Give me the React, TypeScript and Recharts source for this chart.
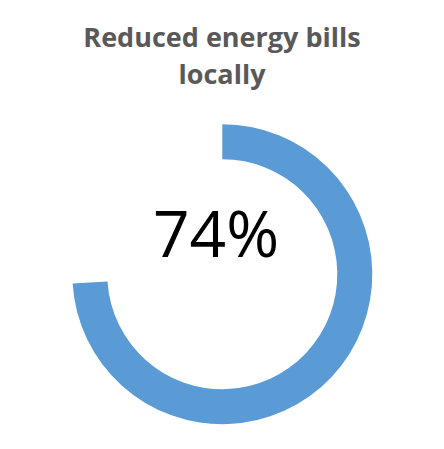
import React from "react";
import { PieChart, Pie, Cell, Customized } from "recharts";

const titleLines = ["Reduced energy bills", "locally"];
const shareValue = [74];
const remainderValue = [26];
const centerLabel = "74%";

const data = [
  { name: "Yes", value: shareValue[0] },
  { name: "Rest", value: remainderValue[0] },
];

const Texts = () => (
  <g>
    <text x={214} y={39} textAnchor="middle" fontFamily="'Open Sans', sans-serif" fontWeight={700} fontSize={27} fill="#595959">
      {titleLines[0]}
    </text>
    <text x={214} y={76} textAnchor="middle" fontFamily="'Open Sans', sans-serif" fontWeight={700} fontSize={27} fill="#595959">
      {titleLines[1]}
    </text>
    <text x={208} y={249} textAnchor="middle" fontFamily="'Open Sans', sans-serif" fontSize={64} fill="#000000">
      {centerLabel}
    </text>
  </g>
);

export default function App() {
  return (
    <div style={{ width: 436, height: 441 }}>
      <PieChart width={436} height={441} margin={{ top: 0, right: 0, bottom: 0, left: 0 }}>
        <Pie
          data={data}
          dataKey="value"
          cx={214.3}
          cy={266.2}
          innerRadius={115}
          outerRadius={150}
          startAngle={90}
          endAngle={-270}
          stroke="none"
          isAnimationActive={false}
        >
          <Cell fill="#5B9BD5" />
          <Cell fill="transparent" />
        </Pie>
        <Customized component={Texts} />
      </PieChart>
    </div>
  );
}
